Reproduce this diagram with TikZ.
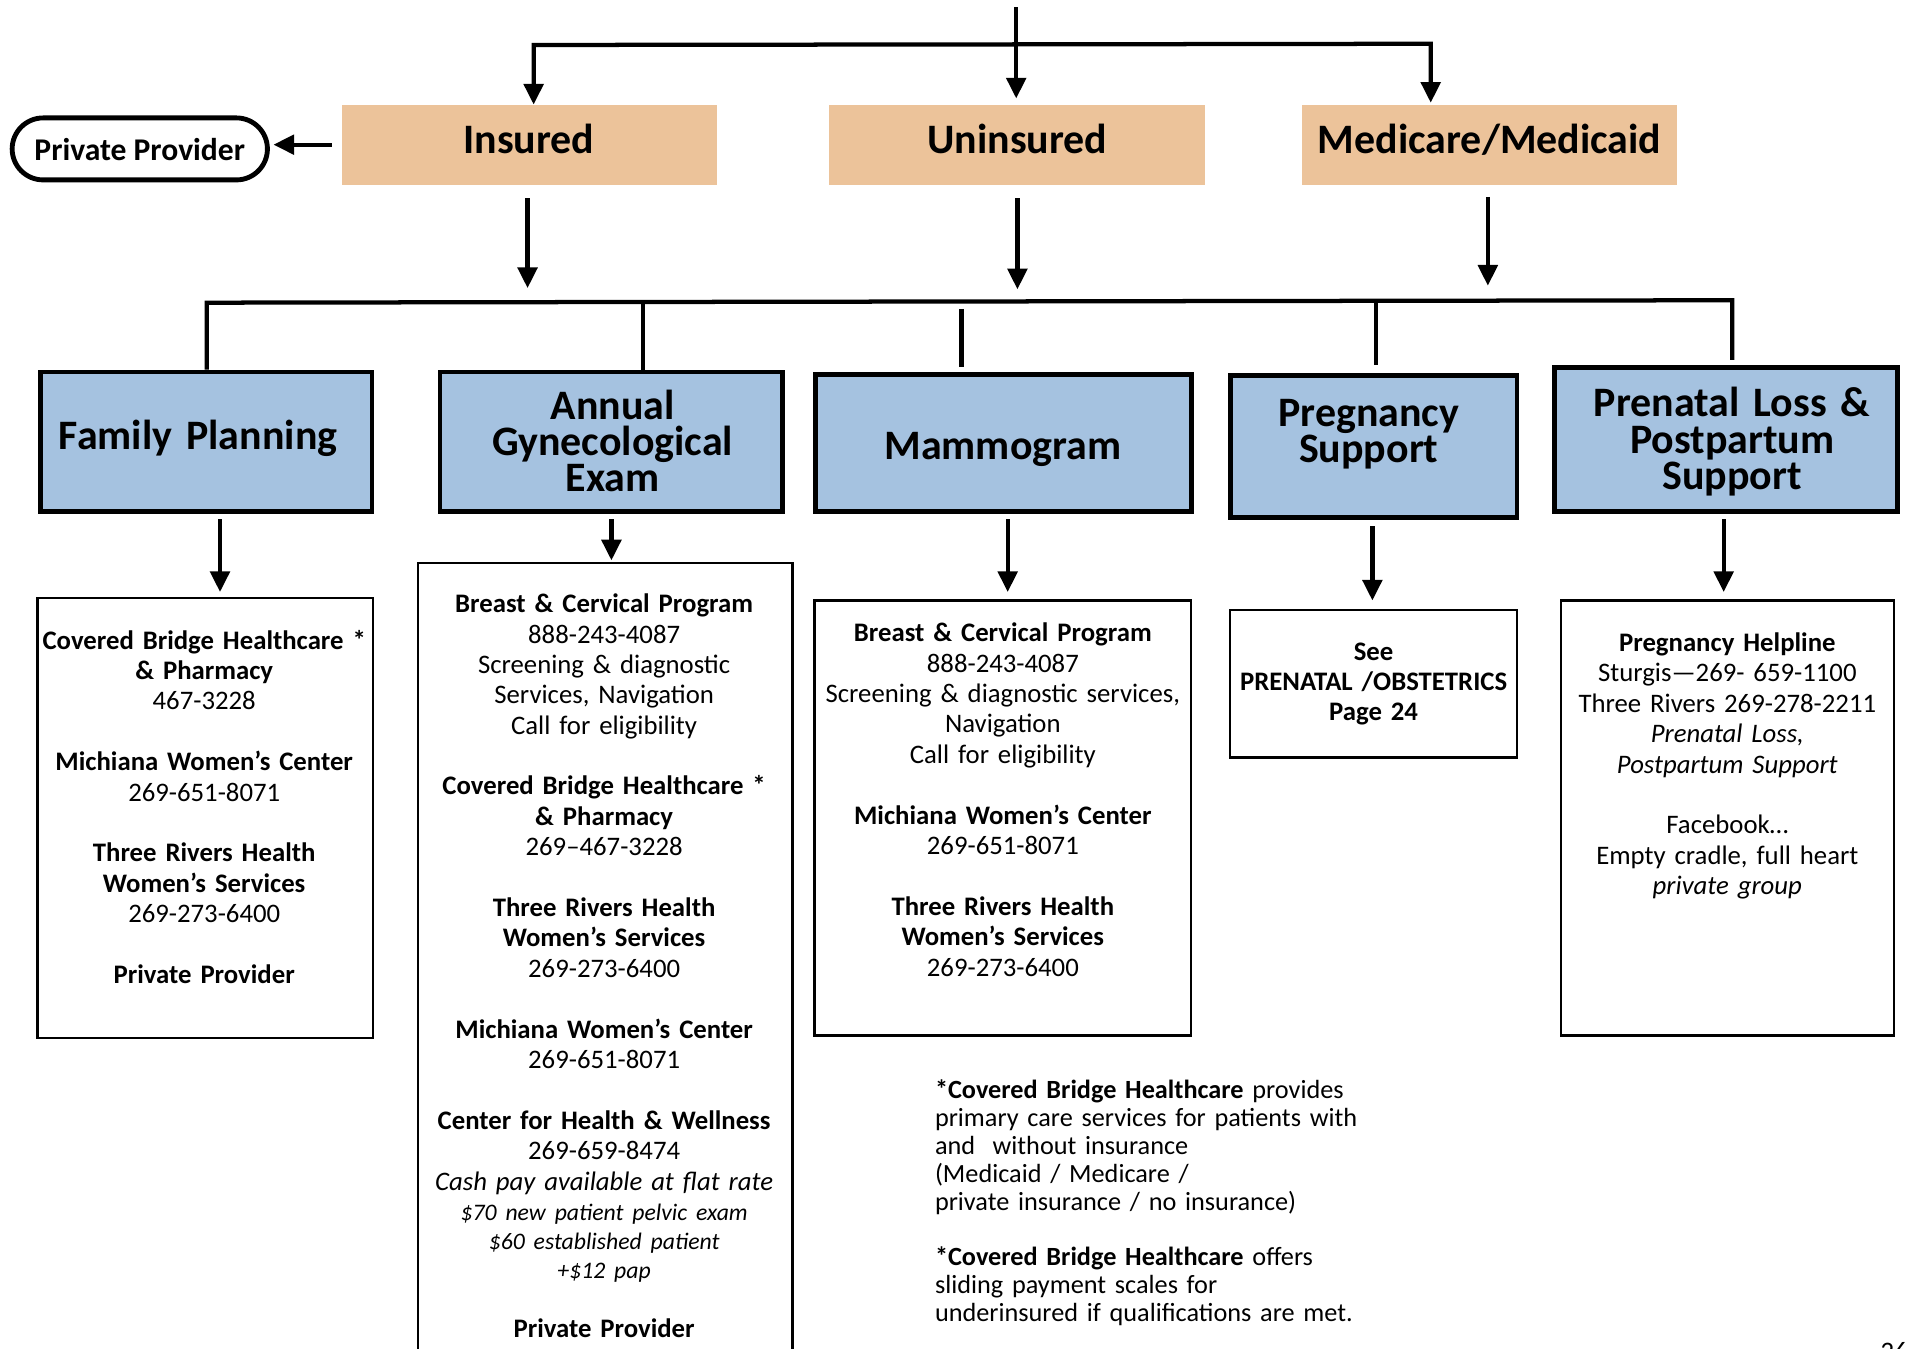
\documentclass[tikz,border=0pt]{standalone}
\usepackage{fontspec}
\setmainfont{Carlito}
\usetikzlibrary{arrows.meta,calc}
\definecolor{tanc}{RGB}{236,195,154}
\definecolor{bluec}{RGB}{165,194,224}
\tikzset{
  conn/.style={line width=3.5pt},
  arr/.style={conn,-{Triangle[length=17pt,width=16pt]}},
  orangebox/.style={fill=tanc,draw=none,inner sep=0pt,outer sep=0pt,minimum width=309pt,minimum height=66pt},
  bluebox/.style={fill=bluec,draw=black,line width=4pt,inner sep=0pt},
  detailbox/.style={draw=black,line width=2pt,inner sep=0pt},
  ttl/.style={anchor=base,inner sep=0pt,align=center,text width=300pt,font=\fontsize{34.5}{29.7}\selectfont\bfseries},
  body/.style={anchor=base,inner sep=0pt,align=center,text width=330pt,font=\fontsize{22}{25}\selectfont},
  note/.style={anchor=base west,inner sep=0pt,align=left,text width=420pt,font=\fontsize{21.6}{23}\selectfont},
}
\newcommand{\smallit}[1]{{\fontsize{19.5}{24}\selectfont\itshape #1}}
\begin{document}
\begin{tikzpicture}[x=1pt,y=-1pt]
\useasboundingbox (0,0) rectangle (1568,1109);
\clip (0,0) rectangle (1568,1109);
\fill[white] (0,0) rectangle (1568,1109);

% ---- top row ----
\node[orangebox] (ins) at (435.5,119) {};
\node[orangebox] (unins) at (836.5,119) {};
\node[orangebox] (med) at (1225.5,119) {};
\node[anchor=base,inner sep=0pt,font=\fontsize{34.5}{36}\selectfont\bfseries] (insT) at (435,126) {Insured};
\node[anchor=base,inner sep=0pt,font=\fontsize{34.5}{36}\selectfont\bfseries] (uninsT) at (837,126) {Uninsured};
\node[anchor=base,inner sep=0pt,font=\fontsize{34.5}{36}\selectfont\bfseries] (medT) at (1225.5,126) {Medicare/Medicaid};

\node[draw=black,line width=4pt,rounded corners=25.5pt,minimum width=210pt,minimum height=51pt,inner sep=0pt] (pp) at (115,122.5) {};
\node[anchor=base,inner sep=0pt,font=\fontsize{26}{28}\selectfont\bfseries] (ppT) at (115,132) {Private Provider};

\coordinate (t0) at (836,6);
\coordinate (tm) at (836,36.5);
\coordinate (bl) at (439,37);
\coordinate (br) at (1177,36);
\draw[arr] (tm) -- (bl) -- (ins.north -| bl);
\draw[arr,shorten >=1.5pt] (tm) -- (br) -- (med.north -| br);
\draw[arr,shorten >=5pt] (t0) -- (unins.north -| t0);
\draw[arr,shorten <=8pt,shorten >=3pt] (ins.west) -- (pp.east |- ins.west);

% ---- bar ----
\coordinate (barL) at (170,249);
\coordinate (barR) at (1425,247);
\coordinate (d2) at (529,248.5);
\coordinate (d3) at (791,248);
\coordinate (d4) at (1132,247.5);
\coordinate (a1) at (434,0);
\coordinate (a2) at (837,0);
\coordinate (a3) at (1224,0);
\draw[arr,shorten <=11pt,shorten >=12pt] (ins.south -| a1) -- (a1 |- barL);
\draw[arr,shorten <=11pt,shorten >=11pt] (unins.south -| a2) -- (a2 |- barL);
\draw[arr,shorten <=10pt,shorten >=12pt] (med.south -| a3) -- (a3 |- barR);

% ---- blue boxes ----
\node[bluebox,minimum width=273pt,minimum height=115pt] (fp) at (169.5,363.5) {};
\node[bluebox,minimum width=282pt,minimum height=115pt] (age) at (503,363.5) {};
\node[bluebox,minimum width=309pt,minimum height=113pt] (mam) at (825.5,364.5) {};
\node[bluebox,minimum width=236pt,minimum height=117pt] (preg) at (1130,367.5) {};
\node[bluebox,minimum width=282pt,minimum height=119pt] (pren) at (1420,361.5) {};
\node[ttl] (fpT) at (163,369.4) {Family Planning};
\node[ttl] (ageT) at (504,344.7) {Annual\\Gynecological\\Exam};
\node[ttl] (mamT) at (825,378) {Mammogram};
\node[ttl] (pregT) at (1126,351) {Pregnancy\\Support};
\node[ttl] (prenT) at (1425,343) {Prenatal Loss \&\\Postpartum\\Support};

\draw[conn,shorten >=4pt] (fp.north -| barL) -- (barL) -- (barR) -- (pren.north -| barR);
\draw[conn] (d2) -- (age.north -| d2);
\draw[conn,shorten <=6pt,shorten >=4pt] (d3) -- (mam.north -| d3);
\draw[conn,shorten >=7pt] (d4) -- (preg.north -| d4);

% ---- detail boxes ----
\node[detailbox,minimum width=276pt,minimum height=362pt] (fpd) at (169,673) {};
\node[detailbox,minimum width=308pt,minimum height=700pt] (aged) at (498,813) {};
\node[detailbox,minimum width=310pt,minimum height=358pt] (mamd) at (825,673) {};
\node[detailbox,minimum width=236pt,minimum height=121pt] (pregd) at (1130,562.5) {};
\node[detailbox,minimum width=274pt,minimum height=358pt] (prend) at (1421,673) {};

\coordinate (x1) at (181,0);
\coordinate (x2) at (503,0);
\coordinate (x3) at (829,0);
\coordinate (x4) at (1129,0);
\coordinate (x5) at (1418,0);
\draw[arr,shorten <=4pt,shorten >=4pt] (fp.south -| x1) -- (fpd.north -| x1);
\draw[arr,shorten <=4pt,shorten >=1pt] (age.south -| x2) -- (aged.north -| x2);
\draw[arr,shorten <=4pt,shorten >=6pt] (mam.south -| x3) -- (mamd.north -| x3);
\draw[arr,shorten <=5pt,shorten >=7pt] (preg.south -| x4) -- (pregd.north -| x4);
\draw[arr,shorten <=4pt,shorten >=6pt] (pren.south -| x5) -- (prend.north -| x5);

\node[body] (fpdT) at (168,534) {\textbf{Covered Bridge Healthcare *}\\\textbf{\& Pharmacy}\\467-3228\\[25pt]
\textbf{Michiana Women’s Center}\\269-651-8071\\[25pt]
\textbf{Three Rivers Health}\\\textbf{Women’s Services}\\269-273-6400\\[25pt]
\textbf{Private Provider}};

\node[body] (agedT) at (497,504) {\textbf{Breast \& Cervical Program}\\888-243-4087\\Screening \& diagnostic\\Services, Navigation\\Call for eligibility\\[25pt]
\textbf{Covered Bridge Healthcare *}\\\textbf{\& Pharmacy}\\269–467-3228\\[25pt]
\textbf{Three Rivers Health}\\\textbf{Women’s Services}\\269-273-6400\\[25pt]
\textbf{Michiana Women’s Center}\\269-651-8071\\[25pt]
\textbf{Center for Health \& Wellness}\\269-659-8474\\\textit{Cash pay available at flat rate}\\\smallit{\$70 new patient pelvic exam}\\[-1pt]\smallit{\$60 established patient}\\[-1pt]\smallit{+\$12 pap}\\[23pt]
\textbf{Private Provider}};

\node[body] (mamdT) at (825,528) {\textbf{Breast \& Cervical Program}\\888-243-4087\\Screening \& diagnostic services,\\Navigation\\Call for eligibility\\[25pt]
\textbf{Michiana Women’s Center}\\269-651-8071\\[25pt]
\textbf{Three Rivers Health}\\\textbf{Women’s Services}\\269-273-6400};

\node[body,font=\fontsize{22}{25}\selectfont\bfseries] (pregdT) at (1130,543) {See\\PRENATAL /OBSTETRICS\\Page 24};

\node[body] (prendT) at (1421,536) {\textbf{Pregnancy Helpline}\\Sturgis—269- 659-1100\\Three Rivers 269-278-2211\\\textit{Prenatal Loss,}\\\textit{Postpartum Support}\\[25pt]
Facebook…\\Empty cradle, full heart\\\textit{private group}};

% ---- footnote ----
\node[note] (fn) at (769,904) {\textbf{*Covered Bridge Healthcare} provides\\primary care services for patients with\\and\ \ without insurance\\(Medicaid / Medicare /\\private insurance / no insurance)\\[22pt]
\textbf{*Covered Bridge Healthcare} offers\\sliding payment scales for\\underinsured if qualifications are met.};

\node[anchor=north west,inner sep=0pt,font=\fontsize{22}{25}\selectfont] (pg) at (1547,1104) {26};
\end{tikzpicture}
\end{document}
